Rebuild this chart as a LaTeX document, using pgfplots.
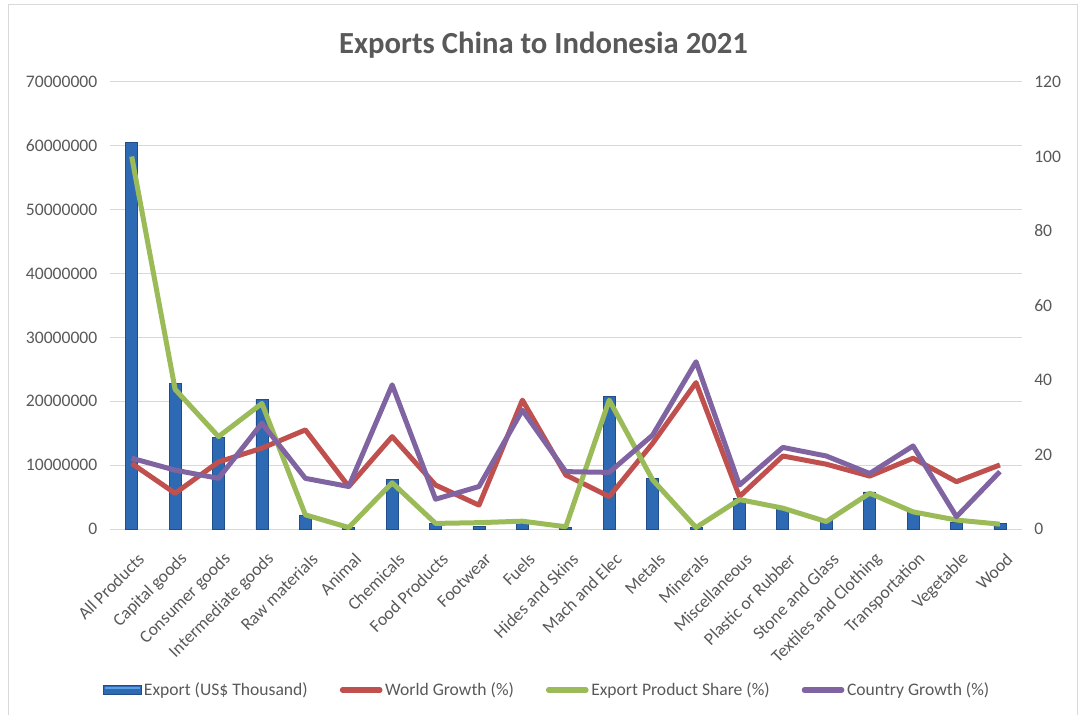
\documentclass[border=0pt]{standalone}
\usepackage{pgfplots}
\usepackage{pgfplotstable}
\pgfplotsset{compat=1.18}
\usepackage{fontspec}
\setmainfont{Carlito}
\definecolor{txt}{HTML}{595959}
\definecolor{gridc}{HTML}{D9D9D9}
\definecolor{bard}{HTML}{1F4E8A}
\definecolor{barm}{HTML}{2E6AB3}
\definecolor{barl}{HTML}{5B9FE3}
\definecolor{cred}{HTML}{C0504D}
\definecolor{cgreen}{HTML}{9BBB59}
\definecolor{cpurp}{HTML}{8064A2}

\pgfplotstableread{
x exp world share country
0 60500000 17.6 100 19.0
1 22800000 9.6 37.5 15.8
2 14400000 18.0 24.8 13.6
3 20300000 21.7 33.7 28.4
4 2200000 26.6 3.8 13.6
5 300000 11.4 0.4 11.4
6 7700000 24.8 12.4 38.7
7 900000 11.8 1.5 8.0
8 400000 6.4 1.7 11.4
9 1100000 34.6 2.1 31.9
10 300000 14.5 0.6 15.4
11 20700000 8.7 34.6 15.2
12 7900000 23.0 13.2 25.2
13 300000 39.3 0.4 44.9
14 4800000 8.7 7.9 11.8
15 3000000 19.6 5.6 21.9
16 1400000 17.4 2.0 19.6
17 5800000 14.2 9.6 14.9
18 2700000 19.0 4.6 22.3
19 1100000 12.7 2.4 3.3
20 900000 17.2 1.3 15.4
}\data

\newcommand{\tf}{\fontsize{13.2}{15}\selectfont}

\begin{document}
\begin{tikzpicture}
\path[use as bounding box] (0,0) rectangle (809.25pt,536.25pt);
\draw[gridc, line width=0.75pt] (6pt,0pt) -- (6pt,532.5pt) -- (807.75pt,532.5pt) -- (807.75pt,0pt);
\node[text=txt, font=\fontsize{23}{27}\bfseries] at (407.6pt,502.5pt) {Exports China to Indonesia 2021};

\begin{axis}[
  at={(82.5pt,139.5pt)}, anchor=south west,
  scale only axis, width=683.7pt, height=335.25pt,
  xmin=-0.5, xmax=20.5, ymin=0, ymax=70000000,
  axis line style={draw=none},
  major tick length=0pt,
  ymajorgrids, grid style={gridc, line width=0.75pt},
  ytick={0,10000000,20000000,30000000,40000000,50000000,60000000,70000000},
  yticklabels={0,10000000,20000000,30000000,40000000,50000000,60000000,70000000},
  yticklabel style={font=\tf, text=txt, xshift=-6pt},
  scaled y ticks=false,
  xtick={0,...,20},
  xticklabels={All Products,Capital goods,Consumer goods,Intermediate goods,Raw materials,Animal,Chemicals,Food Products,Footwear,Fuels,Hides and Skins,Mach and Elec,Metals,Minerals,Miscellaneous,Plastic or Rubber,Stone and Glass,Textiles and Clothing,Transportation,Vegetable,Wood},
  xticklabel style={font=\tf, text=txt, rotate=45, anchor=east, xshift=-6pt, yshift=-19.5pt},
]
\addplot[ybar, bar width=9pt, draw=bard, line width=0.6pt, fill=barm] table[x=x, y=exp] {\data};
\end{axis}

\begin{axis}[
  at={(82.5pt,139.5pt)}, anchor=south west,
  scale only axis, width=683.7pt, height=335.25pt,
  xmin=-0.5, xmax=20.5, ymin=0, ymax=120,
  axis x line=none,
  axis y line*=right,
  axis line style={draw=none},
  major tick length=0pt,
  ytick={0,20,40,60,80,100,120},
  yticklabel style={font=\tf, text=txt, xshift=6pt},
  /pgf/number format/assume math mode=true,
  legend columns=4,
  legend style={at={(0.48,-0.36)}, anchor=center, draw=none, fill=none, font=\tf, text=txt,
    /tikz/every even column/.append style={column sep=22pt},
    inner sep=0pt},
  legend cell align=left,
  legend image code/.code={\draw[#1, line width=4pt, line cap=round] (0pt,0pt) -- (28pt,0pt);},
]
\addlegendimage{legend image code/.code={\draw[draw=bard, line width=0.6pt, fill=barm] (0pt,-3.5pt) rectangle (28pt,3.5pt); \draw[barl, line width=1.2pt] (1pt,1.5pt) -- (27pt,1.5pt);}}
\addlegendentry{Export (US\$ Thousand)}
\addplot[cred, line width=3.75pt, line join=round, mark=none] table[x=x, y=world] {\data};
\addlegendentry{World Growth (\%)}
\addplot[cgreen, line width=3.75pt, line join=round, mark=none] table[x=x, y=share] {\data};
\addlegendentry{Export Product Share (\%)}
\addplot[cpurp, line width=3.75pt, line join=round, mark=none] table[x=x, y=country] {\data};
\addlegendentry{Country Growth (\%)}
\end{axis}
\end{tikzpicture}
\end{document}
